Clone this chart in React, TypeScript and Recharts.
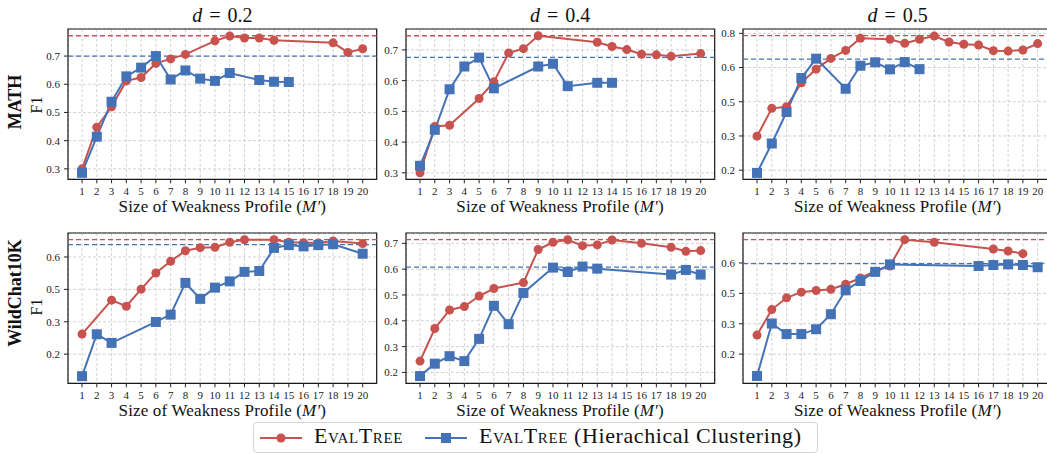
import React from 'react'
import {
  LineChart,
  Line,
  XAxis,
  YAxis,
  CartesianGrid,
  ReferenceLine,
  ReferenceArea,
} from 'recharts'

const RED = '#c8524e'
const BLUE = '#4472b6'
const FONT = '"Liberation Serif", "DejaVu Serif", serif'

// x axis: size of the weakness profile
const sizes = [1, 2, 3, 4, 5, 6, 7, 8, 9, 10, 11, 12, 13, 14, 15, 16, 17, 18, 19, 20]

// F1 per profile size (index 0 -> size 1), null where no profile of that size exists
const mathTree02 = [0.3, 0.448, 0.52, 0.612, 0.624, 0.674, 0.69, 0.706, null, 0.754, 0.771, 0.764, 0.764, 0.756, null, null, null, 0.747, 0.713, 0.726]
const mathCluster02 = [0.286, 0.414, 0.538, 0.628, 0.659, 0.7, 0.617, 0.649, 0.62, 0.612, 0.64, null, 0.615, 0.609, 0.608, null, null, null, null, null]

const mathTree04 = [0.3, 0.451, 0.455, null, 0.542, 0.596, 0.69, 0.704, 0.746, null, null, null, 0.725, 0.711, 0.701, 0.686, 0.684, 0.679, null, 0.688]
const mathCluster04 = [0.323, 0.44, 0.572, 0.646, 0.675, 0.575, null, null, 0.646, 0.655, 0.582, null, 0.593, 0.593, null, null, null, null, null, null]

const mathTree05 = [0.349, 0.471, 0.478, 0.583, 0.643, 0.69, 0.725, 0.778, null, 0.774, 0.756, 0.774, 0.788, 0.762, 0.752, 0.749, 0.724, 0.722, 0.727, 0.755]
const mathCluster05 = [0.188, 0.317, 0.455, 0.604, 0.689, null, 0.557, 0.658, 0.673, 0.642, 0.674, 0.643, null, null, null, null, null, null, null, null]

const chatTree02 = [0.293, null, 0.45, 0.422, 0.501, 0.576, 0.63, 0.679, 0.693, 0.695, 0.718, 0.73, null, 0.73, 0.718, 0.716, 0.715, 0.724, null, 0.712]
const chatCluster02 = [0.098, 0.292, 0.252, null, null, 0.349, 0.383, 0.53, 0.456, 0.508, 0.537, 0.581, 0.585, 0.692, 0.705, 0.699, 0.705, 0.709, null, 0.665]

const chatTree04 = [0.244, 0.37, 0.442, 0.455, 0.496, 0.525, null, 0.548, 0.676, 0.704, 0.714, 0.691, 0.694, 0.713, null, 0.7, null, 0.685, 0.669, 0.672]
const chatCluster04 = [0.186, 0.234, 0.263, 0.244, 0.33, 0.458, 0.387, 0.508, null, 0.606, 0.589, 0.61, 0.602, null, null, null, null, 0.579, 0.597, 0.579]

const chatTree05 = [0.294, 0.42, 0.478, 0.506, 0.514, 0.52, 0.545, 0.576, 0.609, 0.635, 0.765, null, 0.752, null, null, null, 0.719, 0.709, 0.696, null]
const chatCluster05 = [0.092, 0.351, 0.299, 0.299, 0.323, 0.397, 0.515, 0.561, 0.606, 0.643, null, null, null, null, null, 0.635, 0.64, 0.643, 0.64, 0.629]

// best F1 of each method (dashed lines)
const treeBest = [0.772, 0.746, 0.79, 0.73, 0.714, 0.765]
const clusterBest = [0.7, 0.676, 0.687, 0.707, 0.608, 0.647]

// y ticks and the labels printed next to them
const ticksA = [0.3, 0.4, 0.5, 0.6, 0.7]
const labelsA = ['0.3', '0.4', '0.5', '0.6', '0.7']
const ticksB = [0.2, 0.35, 0.5, 0.65, 0.8]
const labelsB = ['0.2', '0.3', '0.5', '0.6', '0.8']
const ticksC = [0.2, 0.35, 0.5, 0.65]
const labelsC = ['0.2', '0.3', '0.5', '0.6']
const ticksD = [0.2, 0.3, 0.4, 0.5, 0.6, 0.7]
const labelsD = ['0.2', '0.3', '0.4', '0.5', '0.6', '0.7']

const thresholds = ['0.2', '0.4', '0.5']
const datasets = ['MATH', 'WildChat10K']

const panels = [
  { tree: mathTree02, cluster: mathCluster02, ticks: ticksA, labels: labelsA, domain: [0.263, 0.796] },
  { tree: mathTree04, cluster: mathCluster04, ticks: ticksA, labels: labelsA, domain: [0.279, 0.768] },
  { tree: mathTree05, cluster: mathCluster05, ticks: ticksB, labels: labelsB, domain: [0.16, 0.819] },
  { tree: chatTree02, cluster: chatCluster02, ticks: ticksC, labels: labelsC, domain: [0.065, 0.761] },
  { tree: chatTree04, cluster: chatCluster04, ticks: ticksD, labels: labelsD, domain: [0.158, 0.74] },
  { tree: chatTree05, cluster: chatCluster05, ticks: ticksC, labels: labelsC, domain: [0.056, 0.798] },
]

const COL_LEFT = [68, 405.7, 743.3]
const ROW_TOP = [29, 232.7]
const PLOT_W = 308.7
const PLOT_H = 150.3
const Y_AXIS_W = 40
const PAD = 6
const X_DOMAIN = [0.05, 20.95]

const SquareDot = (props: any) => {
  const { cx, cy, value, index } = props
  if (cx == null || cy == null || value == null) return <g key={index} />
  return <rect key={index} x={cx - 5} y={cy - 5} width={10} height={10} fill={BLUE} />
}

const tickStyle = { fontSize: 11, fill: '#222', fontFamily: FONT }

const Panel = ({ idx }: { idx: number }) => {
  const p = panels[idx]
  const left = COL_LEFT[idx % 3]
  const top = ROW_TOP[Math.floor(idx / 3)]
  const data = sizes.map((s, i) => ({ size: s, tree: p.tree[i], cluster: p.cluster[i] }))
  return (
    <div style={{ position: 'absolute', left: left - Y_AXIS_W, top: top - PAD }}>
      <LineChart
        width={Y_AXIS_W + PLOT_W + PAD}
        height={PAD + PLOT_H + 22}
        data={data}
        margin={{ top: PAD, right: PAD, bottom: 0, left: 0 }}
      >
        <CartesianGrid stroke="#c6c6c6" strokeDasharray="3 2" strokeWidth={0.8} />
        <XAxis
          dataKey="size"
          type="number"
          domain={X_DOMAIN}
          ticks={sizes}
          interval={0}
          height={22}
          tickSize={4}
          tickMargin={4}
          axisLine={false}
          tickLine={{ stroke: '#222' }}
          tick={tickStyle}
        />
        <YAxis
          type="number"
          domain={p.domain}
          ticks={p.ticks}
          interval={0}
          width={Y_AXIS_W}
          tickSize={4}
          tickMargin={4}
          axisLine={false}
          tickLine={{ stroke: '#222' }}
          tick={tickStyle}
          tickFormatter={(v: number) => p.labels[p.ticks.indexOf(v)] ?? String(v)}
        />
        <ReferenceLine y={treeBest[idx]} stroke={RED} strokeWidth={1.3} strokeDasharray="5 3" />
        <ReferenceLine y={clusterBest[idx]} stroke={BLUE} strokeWidth={1.3} strokeDasharray="5 3" />
        <Line
          dataKey="tree"
          type="linear"
          stroke={RED}
          strokeWidth={2}
          connectNulls
          dot={{ r: 4.5, fill: RED, stroke: RED, strokeWidth: 0 }}
          isAnimationActive={false}
        />
        <Line
          dataKey="cluster"
          type="linear"
          stroke={BLUE}
          strokeWidth={2}
          connectNulls
          dot={SquareDot}
          isAnimationActive={false}
        />
        <ReferenceArea
          x1={X_DOMAIN[0]}
          x2={X_DOMAIN[1]}
          y1={p.domain[0]}
          y2={p.domain[1]}
          fill="none"
          stroke="#1a1a1a"
          strokeWidth={1.2}
          ifOverflow="visible"
        />
      </LineChart>
    </div>
  )
}

const centered = (cx: number, cy: number, w: number, h: number): React.CSSProperties => ({
  position: 'absolute',
  left: cx - w / 2,
  top: cy - h / 2,
  width: w,
  height: h,
  lineHeight: `${h}px`,
  textAlign: 'center',
  whiteSpace: 'nowrap',
})

const App = () => {
  return (
    <div
      style={{
        position: 'absolute',
        left: 0,
        top: 0,
        width: 1047,
        height: 454,
        overflow: 'hidden',
        background: '#fff',
        fontFamily: FONT,
        color: '#111',
      }}
    >
      {panels.map((_, i) => (
        <Panel key={i} idx={i} />
      ))}

      {thresholds.map((d, c) => (
        <div key={d} style={{ ...centered(COL_LEFT[c] + PLOT_W / 2, 15, 200, 24), fontSize: 20, wordSpacing: 2 }}>
          <i>d</i> = {d}
        </div>
      ))}

      {[206.5, 411].map((cy, r) =>
        COL_LEFT.map((l, c) => (
          <div key={`${r}-${c}`} style={{ ...centered(l + PLOT_W / 2, cy, 300, 20), fontSize: 17, letterSpacing: 0.15 }}>
            Size of Weakness Profile (<i>M′</i>)
          </div>
        ))
      )}

      <div style={{ ...centered(15, 102, 140, 22), fontSize: 18, fontWeight: 'bold', transform: 'rotate(-90deg)' }}>
        {datasets[0]}
      </div>
      <div style={{ ...centered(37, 105, 60, 18), fontSize: 16, transform: 'rotate(-90deg)' }}>F1</div>
      <div style={{ ...centered(15, 293, 160, 22), fontSize: 18, fontWeight: 'bold', transform: 'rotate(-90deg)' }}>
        {datasets[1]}
      </div>
      <div style={{ ...centered(37, 307, 60, 18), fontSize: 16, transform: 'rotate(-90deg)' }}>F1</div>

      <div
        style={{
          position: 'absolute',
          left: 253,
          top: 422,
          width: 565,
          height: 31,
          border: '1px solid #d4d4d4',
          borderRadius: 4,
          boxSizing: 'border-box',
          fontSize: 22,
          letterSpacing: 0.6,
        }}
      >
        <svg style={{ position: 'absolute', left: 6, top: 9 }} width={42} height={12}>
          <line x1={0} y1={6} x2={42} y2={6} stroke={RED} strokeWidth={2} />
          <circle cx={21} cy={6} r={4.5} fill={RED} />
        </svg>
        <span style={{ position: 'absolute', left: 60, top: 0, fontVariant: 'small-caps' }}>EvalTree</span>
        <svg style={{ position: 'absolute', left: 171, top: 9 }} width={42} height={12}>
          <line x1={0} y1={6} x2={42} y2={6} stroke={BLUE} strokeWidth={2} />
          <rect x={16} y={1} width={10} height={10} fill={BLUE} />
        </svg>
        <span style={{ position: 'absolute', left: 225, top: 0 }}>
          <span style={{ fontVariant: 'small-caps' }}>EvalTree</span> (Hierachical Clustering)
        </span>
      </div>
    </div>
  )
}

export default App
